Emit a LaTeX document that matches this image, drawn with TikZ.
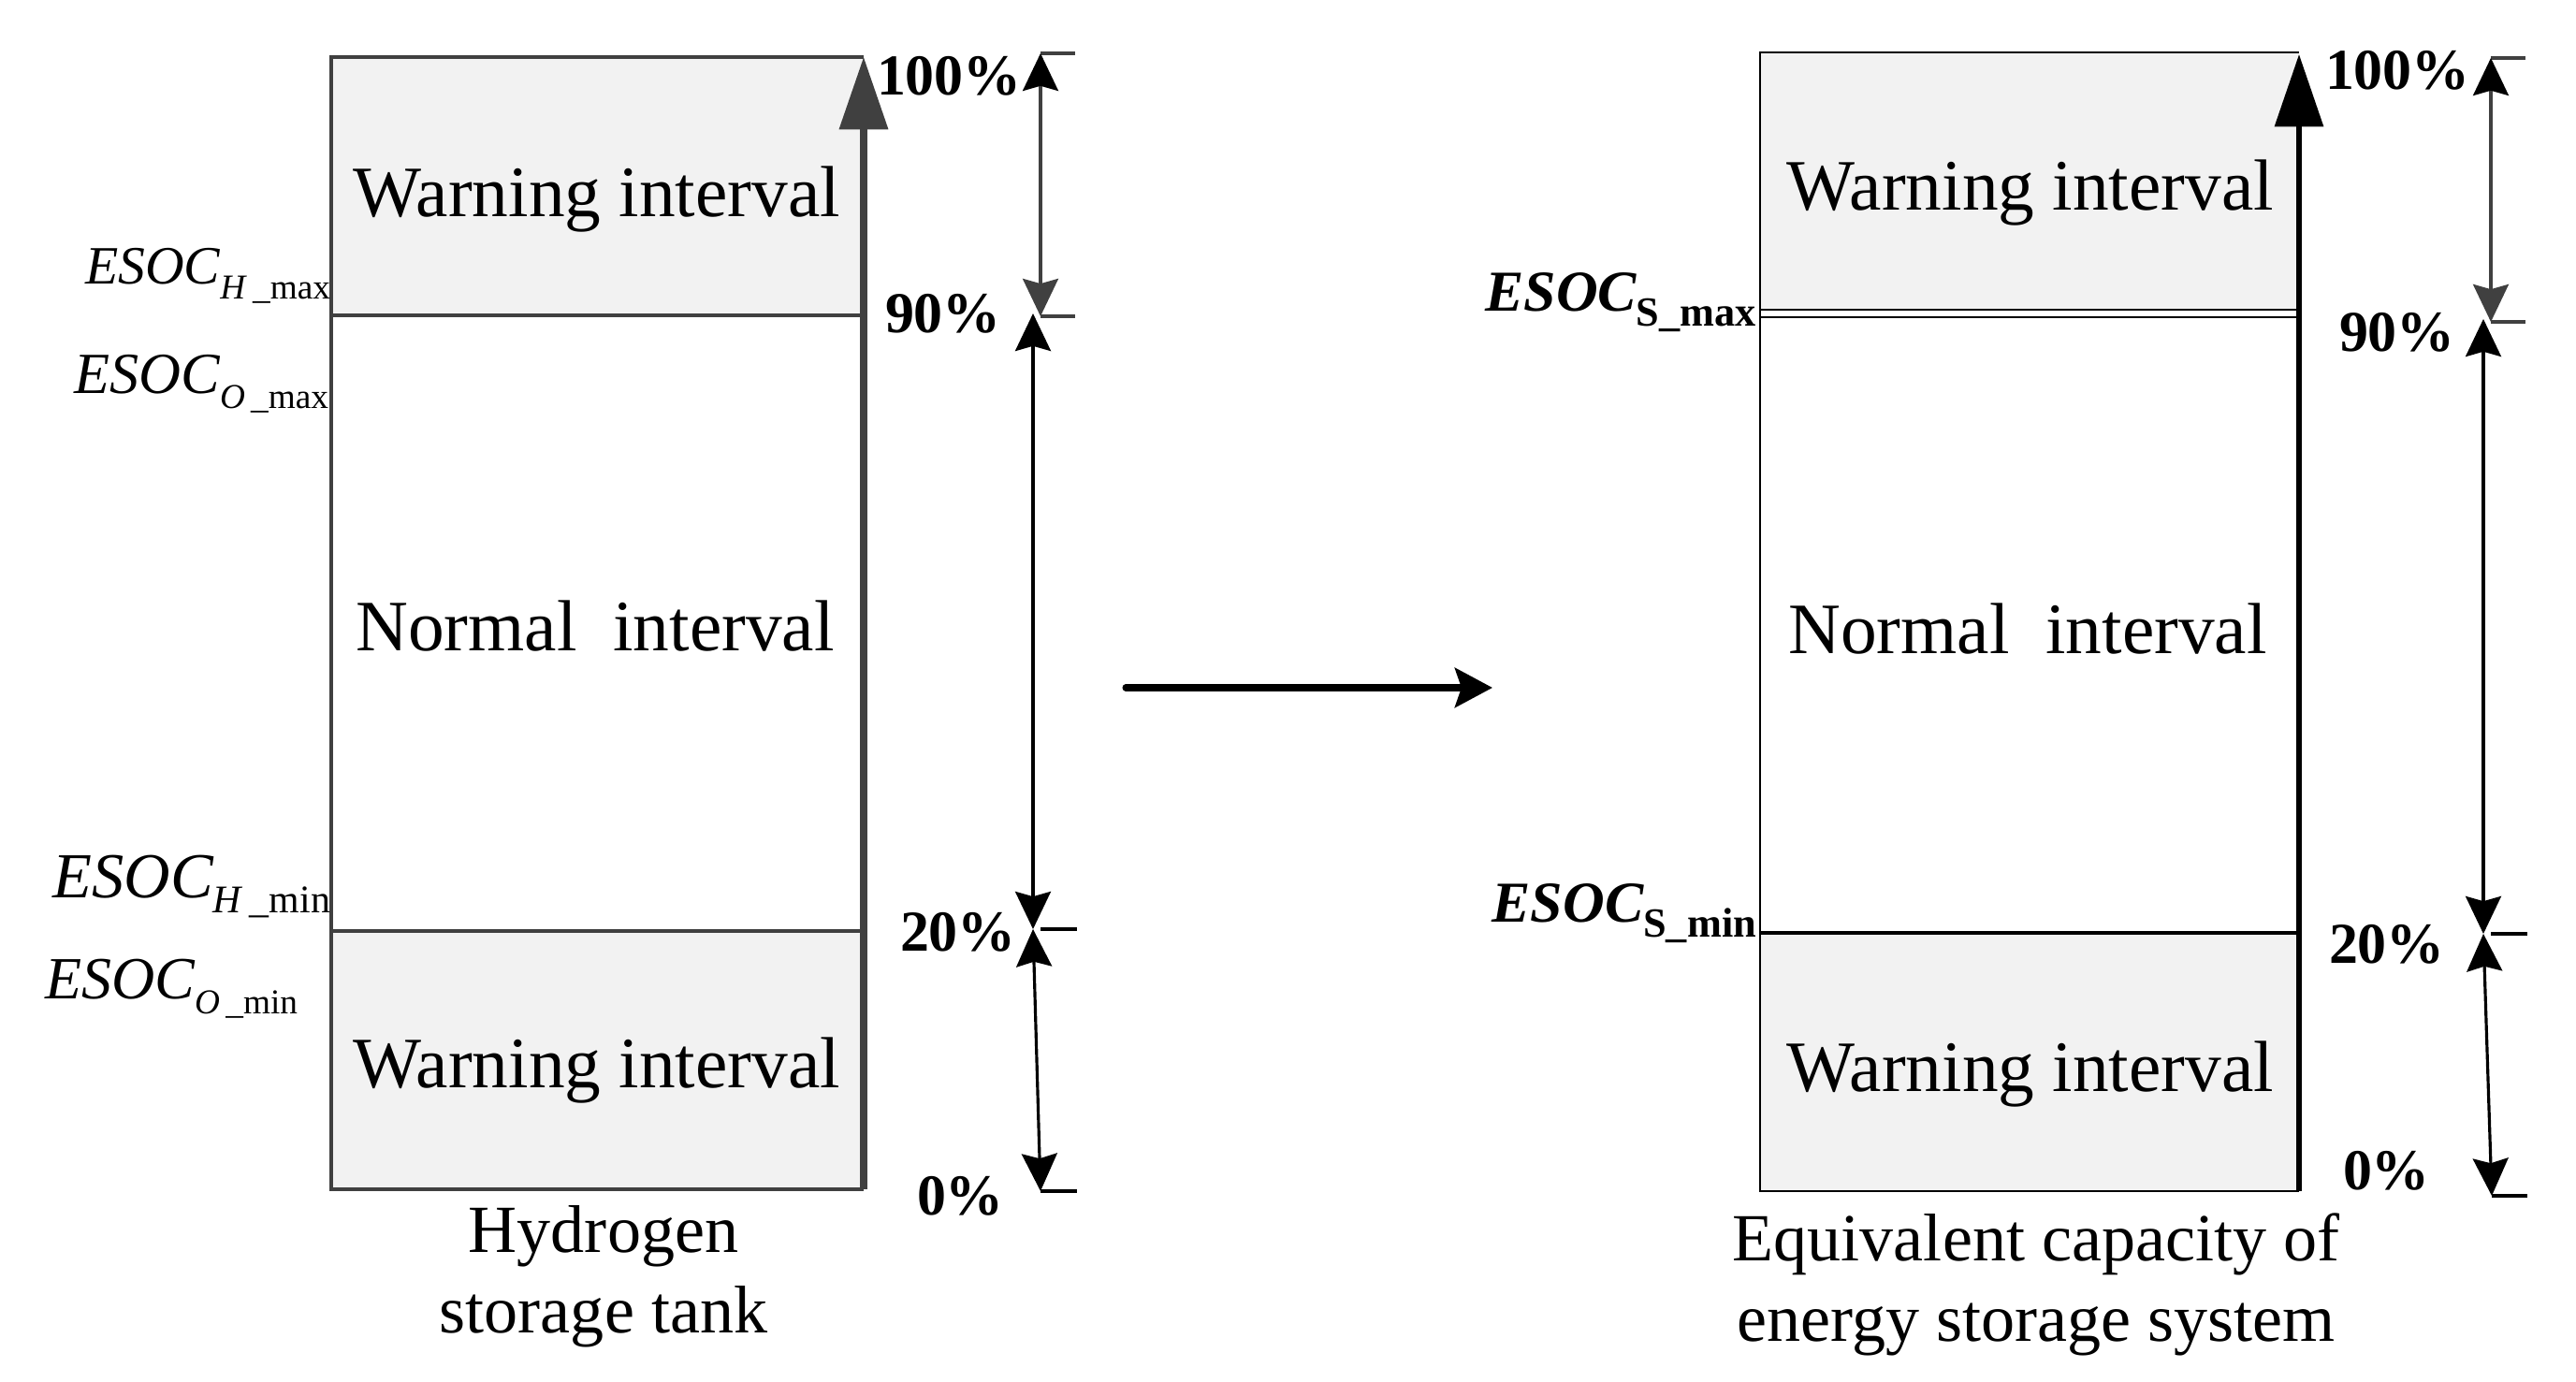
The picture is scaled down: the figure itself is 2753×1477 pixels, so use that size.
\documentclass[tikz,border=0pt]{standalone}
\usepackage{fontspec}
\setmainfont{Liberation Serif}
\usetikzlibrary{arrows.meta}
\definecolor{linegray}{HTML}{404040}
\definecolor{warnfill}{HTML}{F2F2F2}
% ESOC label of the hydrogen tank: main size, sub size, letter, max/min
\newcommand{\esocT}[4]{{\fontsize{#1}{#1}\selectfont\itshape ESOC}\raisebox{-4.3pt}{\fontsize{#2}{#2}\selectfont\textit{#3}\,\_#4}}
% ESOC label of the equivalent storage
\newcommand{\esocE}[1]{{\fontsize{17.6pt}{17.6pt}\selectfont\bfseries\itshape ESOC}\raisebox{-4.5pt}{\fontsize{12.6pt}{12.6pt}\selectfont\bfseries S\_#1}}
\begin{document}
\begin{tikzpicture}[x=0.01cm, y=-0.01cm, every node/.style={inner sep=0pt, outer sep=0pt},
  interval/.style={anchor=base, font=\fontsize{22pt}{26pt}\selectfont},
  pct/.style={anchor=base west, font=\fontsize{17.6pt}{20pt}\selectfont\bfseries},
  caption/.style={anchor=base, font=\fontsize{20.5pt}{24pt}\selectfont},
  esoc/.style={anchor=base east},
  frameL/.style={draw=linegray, line width=1pt},
  frameR/.style={draw=black, line width=0.8pt},
  axisL/.style={linegray, line width=2pt, -{Triangle[length=22pt, width=14.5pt]}},
  axisR/.style={black, line width=1.8pt, -{Triangle[length=22pt, width=14.5pt]}},
  dimtop/.style={linegray, line width=0.9pt, {Stealth[length=11.4pt, width=10.8pt, inset=1.5pt, color=black]}-{Stealth[length=11.4pt, width=10.8pt, inset=1.5pt]}},
  dimline/.style={black, line width=0.9pt, {Stealth[length=11.4pt, width=10.8pt, inset=1.5pt]}-{Stealth[length=11.4pt, width=10.8pt, inset=1.5pt]}},
  tick/.style={line width=0.9pt}]

  \useasboundingbox (0,0) rectangle (2753,1477);

  % hydrogen storage tank
  \fill[warnfill] (354,61) rectangle (923,337);
  \fill[warnfill] (354,995) rectangle (923,1271);
  \draw[frameL] (923,61) -- (354,61) -- (354,1271) -- (923,1271);
  \draw[frameL] (354,337) -- (923,337);
  \draw[frameL] (354,995) -- (923,995);
  \coordinate (axL0) at (923,1271);
  \coordinate (axL1) at (923,61);
  \draw[axisL] (axL0) -- (axL1);

  \node[interval] (warnTopL) at (638,232) {Warning interval};
  \node[interval] (normalL) at (636,696) {Normal\ \ interval};
  \node[interval] (warnBotL) at (638,1163) {Warning interval};

  \node[esoc] (esocHmax) at (353,304) {\esocT{16.4pt}{10.6pt}{H}{max}};
  \node[esoc] (esocOmax) at (351,421) {\esocT{17.7pt}{10.6pt}{O}{max}};
  \node[esoc] (esocHmin) at (353,960) {\esocT{19.5pt}{11.9pt}{H}{min}};
  \node[esoc] (esocOmin) at (318,1068) {\esocT{18.2pt}{10.6pt}{O}{min}};

  \node[pct] (p100L) at (937,102) {100\%};
  \node[pct] (p90L) at (946,356) {90\%};
  \node[pct] (p20L) at (962,1017) {20\%};
  \node[pct] (p0L) at (980,1299) {0\%};

  \coordinate (tL100) at (1112,57);  \coordinate (eL100) at (1149,57);
  \coordinate (tL90) at (1112,338);  \coordinate (eL90) at (1149,338);
  \coordinate (tL20) at (1112,993);  \coordinate (eL20) at (1151,993);
  \coordinate (tL0) at (1112,1273);  \coordinate (eL0) at (1151,1273);
  \coordinate (mL90) at (1104,335);  \coordinate (mL20) at (1104,993);
  \draw[tick, linegray] (tL100) -- (eL100);
  \draw[tick, linegray] (tL90) -- (eL90);
  \draw[tick] (tL20) -- (eL20);
  \draw[tick] (tL0) -- (eL0);
  \draw[dimtop] (tL100) -- (tL90);
  \draw[dimline] (mL90) -- (mL20);
  \draw[dimline] (mL20) -- (tL0);

  \node[caption] (capL1) at (645,1339) {Hydrogen};
  \node[caption] (capL2) at (645,1425) {storage tank};

  % conversion arrow
  \coordinate (convA) at (1203,735);
  \coordinate (convB) at (1595,735);
  \draw[line width=2pt, line cap=round, -{Stealth[length=11.4pt, width=12pt, inset=2pt]}] (convA) -- (convB);

  % equivalent energy storage system
  \fill[warnfill] (1881,56) rectangle (2457,331);
  \fill[warnfill] (1881,997) rectangle (2457,1273);
  \draw[frameR] (2457,56) -- (1881,56) -- (1881,1273) -- (2457,1273);
  \draw[frameR] (1881,331) -- (2457,331);
  \draw[frameR] (1881,339) -- (2457,339);
  \draw[frameR, line width=1pt] (1881,997) -- (2457,997);
  \coordinate (axR0) at (2457,1273);
  \coordinate (axR1) at (2457,58);
  \draw[axisR] (axR0) -- (axR1);

  \node[interval] (warnTopR) at (2170,225) {Warning interval};
  \node[interval] (normalR) at (2167,699) {Normal\ \ interval};
  \node[interval] (warnBotR) at (2170,1167) {Warning interval};

  \node[esoc] (esocSmax) at (1877,333) {\esocE{max}};
  \node[esoc] (esocSmin) at (1877,986) {\esocE{min}};

  \node[pct] (p100R) at (2485,96) {100\%};
  \node[pct] (p90R) at (2500,376) {90\%};
  \node[pct] (p20R) at (2489,1030) {20\%};
  \node[pct] (p0R) at (2504,1272) {0\%};

  \coordinate (tR100) at (2662,62);  \coordinate (eR100) at (2699,62);
  \coordinate (tR90) at (2662,344);  \coordinate (eR90) at (2699,344);
  \coordinate (tR20) at (2662,998);  \coordinate (eR20) at (2701,998);
  \coordinate (tR0) at (2663,1278);  \coordinate (eR0) at (2701,1278);
  \coordinate (mR90) at (2654,341);  \coordinate (mR20) at (2654,998);
  \draw[tick, linegray] (tR100) -- (eR100);
  \draw[tick, linegray] (tR90) -- (eR90);
  \draw[tick] (tR20) -- (eR20);
  \draw[tick] (tR0) -- (eR0);
  \draw[dimtop] (tR100) -- (tR90);
  \draw[dimline] (mR90) -- (mR20);
  \draw[dimline] (mR20) -- (tR0);

  \node[caption] (capR1) at (2176,1348) {Equivalent capacity of};
  \node[caption] (capR2) at (2176,1434) {energy storage system};

\end{tikzpicture}
\end{document}
